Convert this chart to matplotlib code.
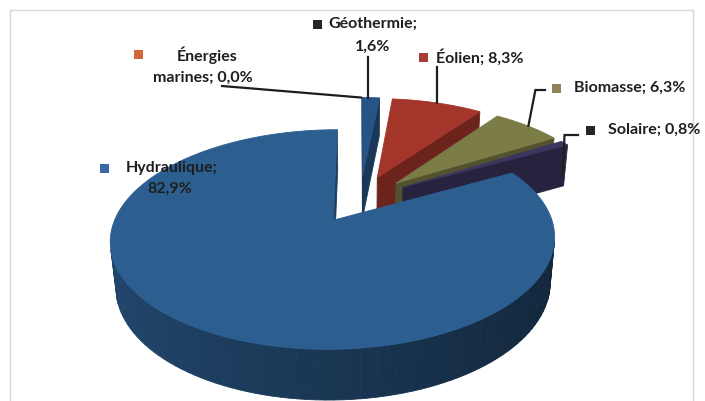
import numpy as np
import matplotlib
matplotlib.use("Agg")
import matplotlib.pyplot as plt
from matplotlib.patches import Polygon, Rectangle
from matplotlib.colors import to_rgb

# energy mix, in the order the slices go round (clockwise from 12 o'clock)
sources = ["Énergies marines", "Géothermie", "Éolien", "Biomasse", "Solaire", "Hydraulique"]
shares = [0.0, 1.6, 8.3, 6.3, 0.8, 82.9]
top_colors = ["#D8733F", "#285385", "#A3352B", "#7C7C47", "#3B3560", "#2C5E90"]
marker_colors = ["#D0683C", "#262626", "#A83C38", "#8C8457", "#262626", "#3A68A0"]

# 3d pie view
cx, cy = 360.0, 199.0      # pixel position of the pie axis (top face)
S = 211.0                  # pixels per radius
elev = np.radians(28)
D = 5.2                    # camera distance, in radii
h = 0.24                   # thickness, in radii
explode = 0.24
se, ce = np.sin(elev), np.cos(elev)
cam = np.array([0.0, -D * ce, D * se])
view = -cam / np.linalg.norm(cam)


def project(X, Y, Z):
    X, Y, Z = np.asarray(X, float), np.asarray(Y, float), np.asarray(Z, float)
    f = D / (D + Y * ce - Z * se)
    return cx + S * X * f, cy - S * (Y * se + Z * ce) * f


def shade(color, k):
    return tuple(np.clip(np.array(to_rgb(color)) * k, 0, 1))


def slice_geom(a0, a1):
    am = np.radians((a0 + a1) / 2)
    off = explode * np.array([np.sin(am), np.cos(am)])
    n = max(int(abs(a1 - a0) / 2) + 2, 3)
    ang = np.radians(np.linspace(a0, a1, n))
    rx = off[0] + np.sin(ang)
    ry = off[1] + np.cos(ang)
    return off, ang, rx, ry


def draw_poly(ax, X, Y, Z, color, z):
    px, py = project(X, Y, Z)
    ax.add_patch(Polygon(np.column_stack([px, py]), closed=True, facecolor=color,
                         edgecolor=color, lw=0.6, zorder=z))


fig = plt.figure(figsize=(7.05, 4.01), dpi=100)
ax = fig.add_axes([0, 0, 1, 1])
ax.set_xlim(0, 705)
ax.set_ylim(401, 0)
ax.axis("off")

# chart frame
ax.add_patch(Rectangle((10, 10), 683, 420, fill=False, edgecolor="#D8D8D8", lw=1.0, zorder=0))

total = sum(shares)
bounds = np.concatenate([[0], np.cumsum(shares) / total * 360])
order = []
for i, v in enumerate(shares):
    if v <= 0:
        continue
    off, ang, rx, ry = slice_geom(bounds[i], bounds[i + 1])
    order.append((off[1], i))
order.sort(reverse=True)   # back slices first

z = 1
for _, i in order:
    a0, a1 = bounds[i], bounds[i + 1]
    off, ang, rx, ry = slice_geom(a0, a1)
    col = top_colors[i]
    faces = []
    # outer side strips
    for k in range(len(ang) - 1):
        amid = (ang[k] + ang[k + 1]) / 2
        nrm = np.array([np.sin(amid), np.cos(amid), 0])
        p = np.array([(rx[k] + rx[k + 1]) / 2, (ry[k] + ry[k + 1]) / 2, -h / 2])
        if np.dot(cam - p, nrm) <= 0:
            continue
        X = [rx[k], rx[k + 1], rx[k + 1], rx[k]]
        Y = [ry[k], ry[k + 1], ry[k + 1], ry[k]]
        k_sh = 0.58 - 0.17 * np.sin(amid)
        faces.append((np.dot(p - cam, view), X, Y, [0, 0, -h, -h], shade(col, k_sh)))
    # radial faces
    r0, r1 = np.radians(a0), np.radians(a1)
    for nrm, rimx, rimy in [
        (np.array([-np.cos(r0), np.sin(r0), 0]), rx[0], ry[0]),
        (np.array([np.cos(r1), -np.sin(r1), 0]), rx[-1], ry[-1]),
    ]:
        p = np.array([(off[0] + rimx) / 2, (off[1] + rimy) / 2, -h / 2])
        if np.dot(cam - p, nrm) <= 0:
            continue
        X = [off[0], rimx, rimx, off[0]]
        Y = [off[1], rimy, rimy, off[1]]
        faces.append((np.dot(p - cam, view), X, Y, [0, 0, -h, -h], shade(col, 0.66)))
    faces.sort(key=lambda f: -f[0])
    for _, X, Y, Zs, c in faces:
        draw_poly(ax, X, Y, Zs, c, z)
        z += 1
    # top face
    X = np.concatenate([[off[0]], rx])
    Y = np.concatenate([[off[1]], ry])
    draw_poly(ax, X, Y, np.zeros(len(X)), col, z)
    z += 1


def rim_point(i, frac=0.5, Z=0.0):
    a0, a1 = bounds[i], bounds[i + 1]
    am = np.radians((a0 + a1) / 2)
    a = np.radians(a0 + (a1 - a0) * frac)
    X = explode * np.sin(am) + np.sin(a)
    Y = explode * np.cos(am) + np.cos(a)
    px, py = project(X, Y, Z)
    return float(px), float(py)


# data labels
font = dict(family="Lato", weight="bold", fontsize=11.5, color="#1E1E1E")
values = [f"{v:.1f}".replace(".", ",") + "%" for v in shares]

label_lines = {
    0: [("Énergies", 207, 55), (f"marines; {values[0]}", 203, 78)],
    1: [("Géothermie;", 373, 24), (values[1], 373, 47)],
    2: [(f"Éolien; {values[2]}", 480, 57)],
    3: [(f"Biomasse; {values[3]}", 630, 88)],
    4: [(f"Solaire; {values[4]}", 654, 130)],
    5: [("Hydraulique;", 172, 168), (values[5], 170, 189)],
}
marker_at = {0: (138, 54), 1: (317, 24), 2: (423, 57), 3: (556, 88), 4: (590, 130), 5: (104, 168)}

for i, lines in label_lines.items():
    for txt, x, y in lines:
        ax.text(x, y, txt, ha="center", va="center", zorder=200, **font)
    mx, my = marker_at[i]
    ax.add_patch(Rectangle((mx - 4.5, my - 4.5), 9, 9, facecolor=marker_colors[i],
                           edgecolor="none", zorder=200))

# leader lines
lc = dict(color="#1E1E1E", lw=1.6, zorder=190, solid_joinstyle="miter")
ex0, ey0 = rim_point(0, 0.5)
ax.plot([222, ex0 + 1], [86, ey0], **lc)
gx, gy = rim_point(1, 0.35)
ax.plot([gx, gx], [57, gy], **lc)
ox, oy = rim_point(2, 0.5)
ax.plot([ox, ox], [67, oy], **lc)
bx, by = rim_point(3, 0.5)
ax.plot([545, bx + 8, bx + 1], [90, 90, by], **lc)
sx, sy = rim_point(4, 0.5, -h / 2)
ax.plot([578, sx + 2, sx], [135, 135, sy + 12], **lc)

fig.savefig("out.png", dpi=100)
